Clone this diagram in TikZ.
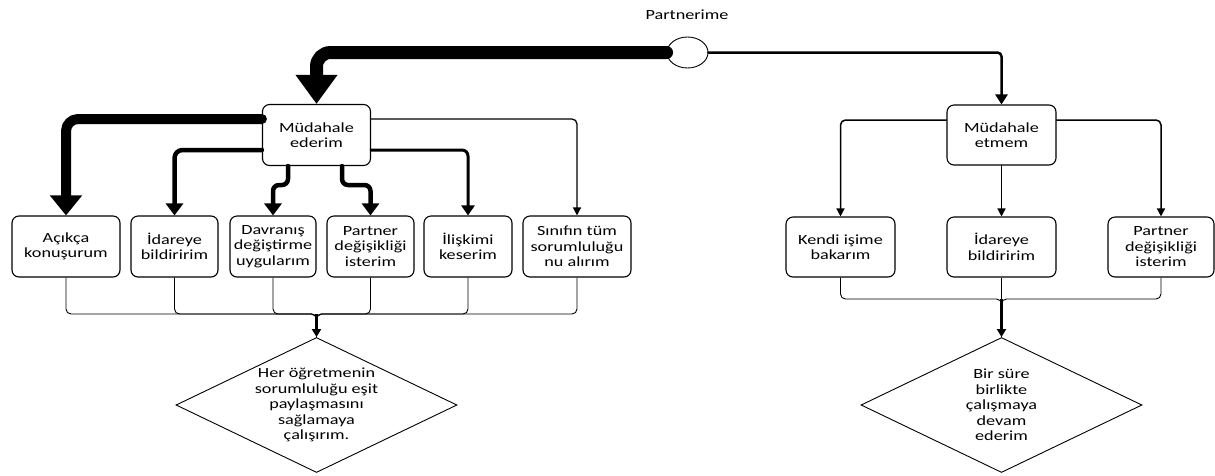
\documentclass[tikz,border=0pt]{standalone}
\usepackage{fontspec}
\setmainfont{Carlito}[FakeStretch=1.3]
\usetikzlibrary{arrows.meta,shapes.geometric}
\begin{document}
\begin{tikzpicture}[x=1pt,y=-1pt,
  every node/.style={font=\fontsize{14}{15.5}\selectfont, align=center, inner sep=0pt},
  box/.style={draw, line width=1.1pt, rounded corners=7pt, fill=white},
  lbox/.style={box, minimum height=61pt},
  dia/.style={draw, diamond, aspect=2.08, minimum width=281pt, minimum height=135pt, line width=0.9pt, fill=white},
  conn/.style={line cap=round, line join=round},
  merge/.style={line width=0.9pt, rounded corners=5pt},
  mergearrow/.style={line width=2.2pt, -{Triangle[length=8pt,width=9pt]}}
]
\useasboundingbox (0,0) rectangle (1215,475);

% top label and split point
\node (lab) at (687,15) {Partnerime};
\node[draw, ellipse, line width=0.9pt, fill=white, minimum width=41pt, minimum height=31pt] (el) at (687.5,52.5) {};

% decision boxes
\node[box, minimum width=108pt, minimum height=61pt] (ml) at (316.5,135) {Müdahale\\ederim};
\node[box, minimum width=109pt, minimum height=60pt] (mr) at (1001.5,135) {Müdahale\\etmem};

% left options
\node[lbox, minimum width=108pt] (a1) at (66,246.5) {Açıkça\\konuşurum};
\node[lbox, minimum width=87pt] (a2) at (174.5,246.5) {İdareye\\bildiririm};
\node[lbox, minimum width=86pt] (a3) at (273,246.5) {Davranış\\değiştirme\\uygularım};
\node[lbox, minimum width=87pt] (a4) at (370.5,246.5) {Partner\\değişikliği\\isterim};
\node[lbox, minimum width=88pt] (a5) at (468,246.5) {İlişkimi\\keserim};
\node[lbox, minimum width=108pt] (a6) at (577,246.5) {Sınıfın tüm\\sorumluluğu\\nu alırım};

% right options
\node[box, minimum width=109pt, minimum height=60pt] (b1) at (840.5,247) {Kendi işime\\bakarım};
\node[box, minimum width=109pt, minimum height=60pt] (b2) at (1001.5,247) {İdareye\\bildiririm};
\node[box, minimum width=106pt, minimum height=60pt] (b3) at (1161,247) {Partner\\değişikliği\\isterim};

% outcome diamonds
\node[dia] (dL) at (316.5,405) {Her öğretmenin\\sorumluluğu eşit\\paylaşmasını\\sağlamaya\\çalışırım.};
\node[dia] (dR) at (1001.5,405) {Bir süre\\birlikte\\çalışmaya\\devam\\ederim};

% junction coordinates
\coordinate (j3) at (273,185);
\coordinate (j4) at (370.5,185);
\coordinate (mL) at (316.5,314);
\coordinate (mR) at (1001.5,299);

% connectors from the split point
\draw[conn, line width=13pt, rounded corners=14pt, -{Triangle[length=29pt,width=40pt]}] (el.west) -| (ml.north);
\draw[conn, line width=2.5pt, rounded corners=4pt, -{Triangle[length=10pt,width=12pt]}] (el.east) -| (mr.north);

% left weighted connectors
\draw[conn, line width=10pt, rounded corners=12pt, -{Triangle[length=20pt,width=31pt]}] ([yshift=16pt]ml.west) -| (a1.north);
\draw[conn, line width=4.5pt, rounded corners=8pt, -{Triangle[length=12pt,width=17pt]}] ([yshift=-15pt]ml.west) -| (a2.north);
\draw[conn, line width=4.5pt, rounded corners=6pt, -{Triangle[length=12pt,width=17pt]}] ([xshift=-28.5pt]ml.south) |- (j3) -- (a3.north);
\draw[conn, line width=4.5pt, rounded corners=6pt, -{Triangle[length=12pt,width=17pt]}] ([xshift=25.5pt]ml.south) |- (j4) -- (a4.north);
\draw[conn, line width=3pt, rounded corners=6pt, -{Triangle[length=10pt,width=13pt]}] ([yshift=-15pt]ml.east) -| (a5.north);
\draw[conn, line width=1.3pt, rounded corners=5pt, -{Triangle[length=8pt,width=8pt]}] ([yshift=16pt]ml.east) -| (a6.north);

% right connectors
\draw[conn, line width=1.5pt, rounded corners=5pt, -{Triangle[length=8pt,width=8pt]}] ([yshift=15pt]mr.west) -| (b1.north);
\draw[conn, line width=1.5pt, -{Triangle[length=8pt,width=8pt]}] (mr.south) -- (b2.north);
\draw[conn, line width=1.5pt, rounded corners=5pt, -{Triangle[length=8pt,width=8pt]}] ([yshift=15pt]mr.east) -| (b3.north);

% merges to left diamond
\draw[merge] (a1.south) |- (mL) -- (dL.north);
\draw[merge] (a2.south) |- (mL) -- (dL.north);
\draw[merge] (a3.south) |- (mL) -- (dL.north);
\draw[merge] (a4.south) |- (mL) -- (dL.north);
\draw[merge] (a5.south) |- (mL) -- (dL.north);
\draw[merge] (a6.south) |- (mL) -- (dL.north);
\draw[mergearrow] (mL) -- (dL.north);

% merges to right diamond
\draw[merge] (b1.south) |- (mR) -- (dR.north);
\draw[merge] (b2.south) -- (dR.north);
\draw[merge] (b3.south) |- (mR) -- (dR.north);
\draw[mergearrow] (mR) -- (dR.north);
\end{tikzpicture}
\end{document}
